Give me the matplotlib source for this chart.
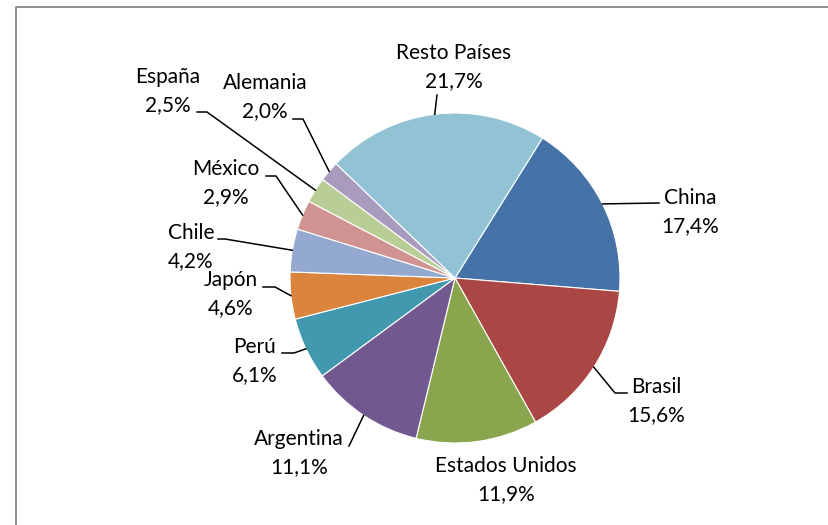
"""Distribución por país - gráfico de torta estilo Excel."""
import matplotlib
matplotlib.use("Agg")
import matplotlib.pyplot as plt
import numpy as np

plt.rcParams["font.family"] = ["Lato", "DejaVu Sans"]

paises = ["China", "Brasil", "Estados Unidos", "Argentina", "Perú", "Japón",
          "Chile", "México", "España", "Alemania", "Resto Países"]
valores = [17.4, 15.6, 11.9, 11.1, 6.1, 4.6, 4.2, 2.9, 2.5, 2.0, 21.7]
colores = ["#4572A7", "#AA4643", "#89A54E", "#71588F", "#4198AF", "#DB843D",
           "#93A9CF", "#D19392", "#B9CD96", "#A99BBD", "#92C3D5"]

W, H = 829, 525
# posiciones de etiquetas (pixeles, y hacia abajo) y codo de la línea guía
lab_pos = {
    "China": (690, 212), "Brasil": (656, 401), "Estados Unidos": (506, 480),
    "Argentina": (299, 453), "Perú": (255, 361), "Japón": (231, 294),
    "Chile": (191, 247), "México": (226, 183), "España": (168, 91),
    "Alemania": (265, 97), "Resto Países": (454, 67),
}
guia = {
    "China": [(659, 203)], "Brasil": [(627, 393), (615, 393)],
    "Argentina": [(349, 446)], "Perú": [(282, 353), (294, 353)],
    "Japón": [(263, 287), (275, 287)], "Chile": [(218, 239), (225, 239)],
    "México": [(266, 176), (276, 176)], "España": [(197, 112), (207, 112)],
    "Alemania": [(293, 119), (303, 119)], "Resto Países": [(437, 95)],
}

fig = plt.figure(figsize=(W / 100, H / 100), dpi=100)
ax = fig.add_axes([0, 0, 1, 1])

cx, cy, r = 455, H - 278, 165
wedges, _ = ax.pie(valores, colors=colores, startangle=58, counterclock=False,
                   center=(cx, cy), radius=r,
                   wedgeprops=dict(edgecolor="white", linewidth=0.8))
ax.set_xlim(0, W); ax.set_ylim(0, H); ax.set_aspect("equal"); ax.axis("off")

for w, nombre, v in zip(wedges, paises, valores):
    ang = np.deg2rad((w.theta1 + w.theta2) / 2)
    px, py = cx + r * np.cos(ang), cy + r * np.sin(ang)
    if nombre in guia:
        pts = [(x, H - y) for x, y in guia[nombre]] + [(px, py)]
        ax.plot([p[0] for p in pts], [p[1] for p in pts], color="black", lw=1.1)
    tx, ty = lab_pos[nombre]
    txt = f"{nombre}\n{v:.1f}".replace(".", ",") + "%"
    ax.text(tx, H - ty, txt, ha="center", va="center", fontsize=15,
            linespacing=1.55, color="black")

# borde del área del gráfico (recortado a la derecha y abajo)
ax.plot([16, 16, W + 5], [-5, H - 6.5, H - 6.5], color="#868686", lw=1.3,
        clip_on=False)

fig.savefig("out.png", dpi=100)
